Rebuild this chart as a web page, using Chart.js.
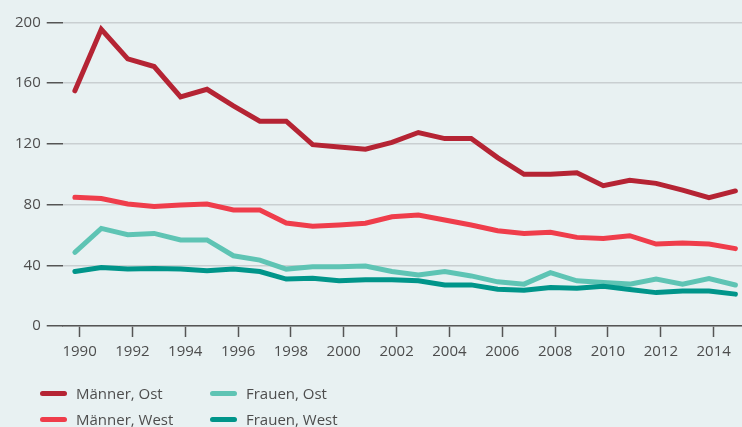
<!DOCTYPE html>
<html>
<head>
<meta charset="utf-8">
<script src="https://cdn.jsdelivr.net/npm/chart.js@4/dist/chart.umd.min.js"></script>
<style>
  html, body { margin: 0; padding: 0; background: #e8f1f2; }
  #wrap { position: relative; width: 742px; height: 427px; overflow: hidden; background: #e8f1f2; }
  #legend { position: absolute; left: 40px; top: 383px; font-family: "Open Sans", sans-serif; font-size: 15px; color: #4d4d4d; }
  .item { position: absolute; white-space: nowrap; height: 20px; line-height: 20px; }
  .swatch { position: absolute; left: 0; top: 8px; width: 27px; height: 5px; border-radius: 3px; }
  .item span { position: absolute; left: 36px; top: 0; }
</style>
</head>
<body>
<div id="wrap">
  <canvas id="chart" width="742" height="427"></canvas>
  <div id="legend"></div>
</div>
<script>
const years = [1990, 1991, 1992, 1993, 1994, 1995, 1996, 1997, 1998, 1999, 2000, 2001, 2002,
  2003, 2004, 2005, 2006, 2007, 2008, 2009, 2010, 2011, 2012, 2013, 2014, 2015];
const maennerOst = [155, 195.5, 176, 171, 151, 156, 145, 135, 135, 119.5, 118, 116.5, 121,
  127.5, 123.5, 123.5, 111, 100, 100, 101, 92.5, 96, 94, 89.5, 84.5, 89];
const maennerWest = [84.8, 84, 80.4, 78.7, 79.8, 80.4, 76.5, 76.5, 67.9, 65.7, 66.6, 67.7, 72,
  73.2, 69.9, 66.6, 62.8, 61, 61.7, 58.4, 57.7, 59.5, 54, 54.7, 54, 51];
const frauenOst = [48.5, 64.3, 60.2, 61, 56.7, 56.7, 46.3, 43.4, 37.5, 39, 39, 39.5, 35.9,
  33.7, 35.9, 33, 29.1, 27.6, 35.2, 29.8, 28.7, 27.6, 30.9, 27.6, 31.3, 27];
const frauenWest = [35.9, 38.6, 37.5, 37.9, 37.5, 36.4, 37.5, 35.9, 30.9, 31.5, 29.8, 30.4, 30.4,
  29.8, 27.1, 27.1, 24.2, 23.6, 25.3, 24.9, 26.2, 24, 22, 23.1, 23.1, 21];
const yTicks = [0, 40, 80, 120, 160, 200];

const series = [
  { label: "Männer, Ost", data: maennerOst, color: "#b52434" },
  { label: "Männer, West", data: maennerWest, color: "#ef3d4b" },
  { label: "Frauen, Ost", data: frauenOst, color: "#5ec4b4" },
  { label: "Frauen, West", data: frauenWest, color: "#00958a" }
];

Chart.defaults.font.family = "'Open Sans', sans-serif";
Chart.defaults.font.size = 15;
Chart.defaults.color = "#4d4d4d";

const ctx = document.getElementById("chart").getContext("2d");
new Chart(ctx, {
  type: "line",
  data: {
    datasets: series.slice().reverse().map(s => ({
      label: s.label,
      data: years.map((y, i) => ({ x: y, y: s.data[i] })),
      borderColor: s.color,
      backgroundColor: s.color,
      borderWidth: 5,
      borderCapStyle: "round",
      borderJoinStyle: "miter",
      pointRadius: 0,
      tension: 0,
      fill: false
    }))
  },
  options: {
    responsive: false,
    animation: false,
    layout: { padding: { top: 22.5, left: 9, right: 0, bottom: 60 } },
    plugins: { legend: { display: false }, tooltip: { enabled: false } },
    scales: {
      x: {
        type: "linear",
        display: false,
        min: 1989.54,
        max: 2015.25
      },
      xt: {
        type: "linear",
        position: "bottom",
        min: 1989.363,
        max: 2015.073,
        border: { display: true, color: "#555", width: 1.5 },
        grid: { drawOnChartArea: false, drawTicks: true, tickLength: 11, tickColor: "#555", tickWidth: 1.5 },
        ticks: {
          stepSize: 2,
          includeBounds: false,
          padding: 6,
          maxRotation: 0,
          callback: v => String(v)
        }
      },
      y: {
        min: 0,
        max: 200,
        afterBuildTicks: axis => { axis.ticks = yTicks.map(v => ({ value: v })); },
        border: { display: false },
        grid: { color: "#c9cfd1", lineWidth: 1.5, tickLength: 16, tickColor: "#555", tickWidth: 1.5 },
        ticks: { padding: 6 }
      }
    }
  }
});

const legend = document.getElementById("legend");
series.forEach((s, i) => {
  const item = document.createElement("div");
  item.className = "item";
  item.style.left = (i < 2 ? 0 : 170) + "px";
  item.style.top = (i % 2) * 26 + "px";
  item.innerHTML = '<div class="swatch" style="background:' + s.color + '"></div><span>' + s.label + "</span>";
  legend.appendChild(item);
});
</script>
</body>
</html>
